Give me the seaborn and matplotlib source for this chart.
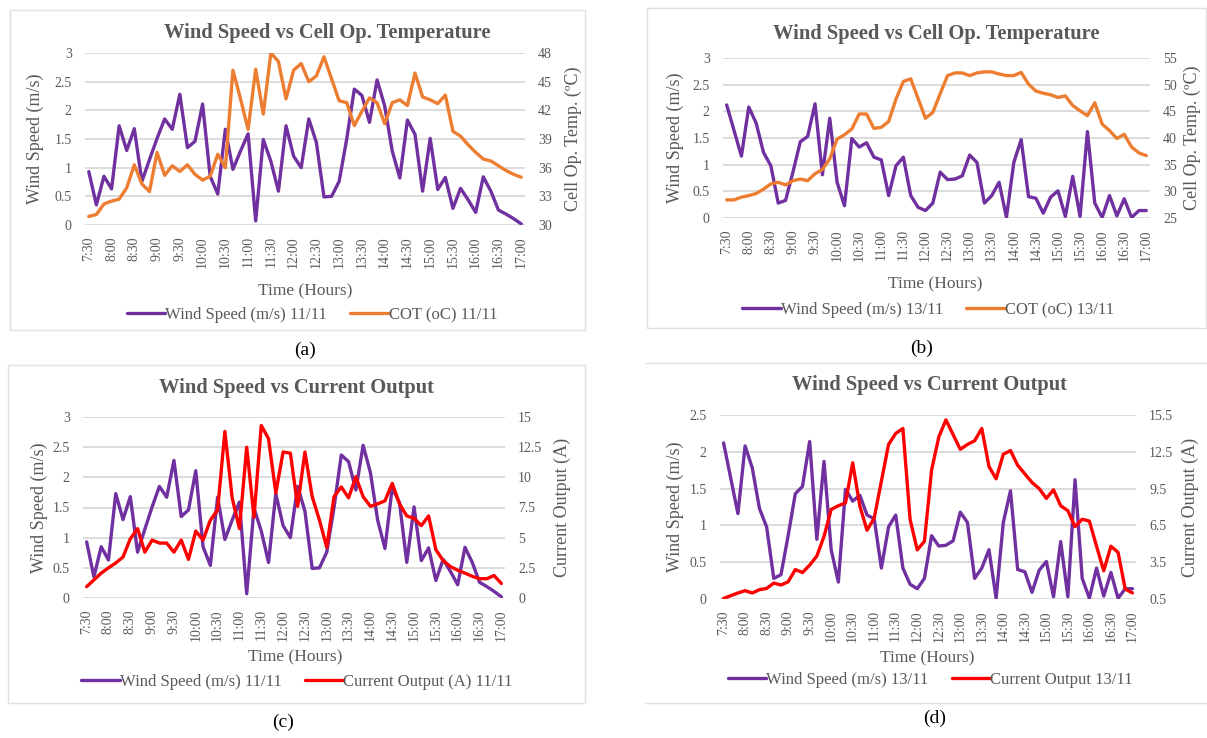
import numpy as np
import pandas as pd
import matplotlib
matplotlib.use("Agg")
import matplotlib.pyplot as plt
from matplotlib.patches import Rectangle
from matplotlib.lines import Line2D
from matplotlib.transforms import blended_transform_factory
import seaborn as sns

# ---------------- data ----------------
times = [f"{h}:{m:02d}" for h in range(7, 18) for m in range(0, 60, 10)]
times = times[times.index("7:30"):times.index("17:00") + 1]   # 58 samples, 10-min steps
tick_labels = ["7:30", "8:00", "8:30", "9:00", "9:30", "10:00", "10:30", "11:00", "11:30",
               "12:00", "12:30", "13:00", "13:30", "14:00", "14:30", "15:00", "15:30",
               "16:00", "16:30", "17:00"]

wind_11 = [0.93, 0.35, 0.85, 0.63, 1.73, 1.30, 1.68, 0.76, 1.14, 1.51, 1.85, 1.67, 2.28, 1.35,
           1.46, 2.11, 0.85, 0.54, 1.67, 0.97, 1.29, 1.59, 0.07, 1.49, 1.11, 0.59, 1.73, 1.20,
           1.00, 1.85, 1.44, 0.49, 0.50, 0.76, 1.50, 2.37, 2.26, 1.79, 2.53, 2.08, 1.29, 0.82,
           1.83, 1.58, 0.59, 1.51, 0.62, 0.83, 0.29, 0.64, 0.44, 0.22, 0.84, 0.59, 0.26, 0.19,
           0.11, 0.02]
cot_11 = [30.9, 31.1, 32.2, 32.5, 32.7, 33.9, 36.3, 34.3, 33.5, 37.6, 35.2, 36.2, 35.6, 36.3,
          35.3, 34.7, 35.1, 37.4, 36.0, 46.2, 43.2, 40.0, 46.3, 41.6, 48.0, 47.1, 43.2, 46.2,
          46.9, 45.0, 45.6, 47.6, 45.3, 43.0, 42.8, 40.4, 41.9, 43.3, 42.8, 40.6, 42.8, 43.1,
          42.5, 45.9, 43.4, 43.1, 42.7, 43.6, 39.8, 39.3, 38.4, 37.6, 36.9, 36.7, 36.2, 35.7,
          35.3, 35.0]
wind_13 = [2.12, 1.64, 1.16, 2.08, 1.78, 1.23, 0.98, 0.28, 0.33, 0.86, 1.43, 1.53, 2.14, 0.81,
           1.87, 0.67, 0.23, 1.49, 1.33, 1.41, 1.14, 1.09, 0.42, 0.98, 1.14, 0.42, 0.20, 0.14,
           0.28, 0.86, 0.72, 0.73, 0.79, 1.18, 1.04, 0.28, 0.42, 0.67, 0.01, 1.04, 1.47, 0.40,
           0.37, 0.09, 0.39, 0.51, 0.03, 0.78, 0.03, 1.62, 0.28, 0.01, 0.42, 0.04, 0.36, 0.01,
           0.14, 0.14]
cot_13 = [28.4, 28.4, 28.9, 29.2, 29.6, 30.4, 31.4, 31.7, 31.2, 32.0, 32.3, 32.0, 33.3, 34.1,
          36.1, 39.8, 40.6, 41.7, 44.5, 44.5, 41.8, 42.0, 43.1, 47.3, 50.6, 51.1, 47.4, 43.7,
          44.8, 48.3, 51.7, 52.2, 52.2, 51.7, 52.2, 52.4, 52.4, 52.0, 51.7, 51.7, 52.3, 50.1,
          48.8, 48.4, 48.1, 47.6, 47.9, 46.1, 45.1, 44.2, 46.6, 42.6, 41.4, 39.9, 40.7, 38.3,
          37.2, 36.7]
cur_11 = [0.94, 1.5, 2.06, 2.5, 2.9, 3.4, 4.9, 5.75, 3.8, 4.8, 4.55, 4.55, 3.8, 4.8, 3.2, 5.55,
          4.8, 6.45, 7.3, 13.8, 8.3, 5.75, 12.5, 6.7, 14.3, 13.2, 8.7, 12.1, 12.0, 7.6, 12.1, 8.4,
          6.45, 4.2, 8.4, 9.2, 8.3, 10.05, 8.4, 7.6, 7.8, 8.05, 9.5, 7.8, 6.8, 6.6, 6.0, 6.8, 4.0,
          3.1, 2.6, 2.3, 2.06, 1.8, 1.6, 1.6, 1.86, 1.2]
cur_13 = [0.55, 0.77, 0.99, 1.18, 0.99, 1.26, 1.36, 1.8, 1.64, 1.9, 2.9, 2.66, 3.26, 4.0, 5.6,
          7.8, 8.1, 8.34, 11.6, 8.07, 6.1, 7.1, 10.1, 13.1, 14.0, 14.4, 7.0, 4.5, 5.2, 11.0, 13.7,
          15.1, 13.9, 12.7, 13.1, 13.4, 14.4, 11.3, 10.3, 12.3, 12.6, 11.4, 10.7, 10.0, 9.5, 8.7,
          9.4, 8.1, 7.7, 6.4, 7.0, 6.85, 4.8, 2.8, 4.8, 4.3, 1.3, 1.0]

df = pd.DataFrame({"time": times, "wind_11": wind_11, "cot_11": cot_11, "wind_13": wind_13,
                   "cot_13": cot_13, "cur_11": cur_11, "cur_13": cur_13})
df["pos"] = np.arange(len(df))

# ---------------- style ----------------
sns.set_theme(style="white")
SERIF = ["Liberation Serif", "DejaVu Serif"]
plt.rcParams["font.family"] = SERIF
GRAY = "#595959"
GRID = "#D9D9D9"
PURPLE = "#7030A0"
ORANGE = "#ED7D31"
RED = "#FF0000"
LW = 2.4

W, H = 1207, 738
fig = plt.figure(figsize=(W / 100, H / 100), dpi=100)


def rect(x0, x1, ytop, ybot):
    return [x0 / W, 1 - ybot / H, (x1 - x0) / W, (ybot - ytop) / H]


def fx(x):
    return x / W


def fy(y):
    return 1 - y / H


def panel(box, left_col, right_col, left_lim, left_ticks, left_labels, right_lim, right_ticks,
          right_labels, right_color, title, right_ylabel, leg_labels, lay):
    ax = fig.add_axes(rect(*box))
    ax2 = ax.twinx()
    sns.lineplot(data=df, x="pos", y=left_col, ax=ax, color=PURPLE, lw=LW, legend=False)
    sns.lineplot(data=df, x="pos", y=right_col, ax=ax2, color=right_color, lw=LW, legend=False)
    for a in (ax, ax2):
        for s in a.spines.values():
            s.set_visible(False)
        a.set_xlim(-0.5, len(df) - 0.5)
        a.tick_params(length=0, colors=GRAY, labelsize=10)
        a.set_xlabel("")
    ax.set_ylim(*left_lim)
    ax.set_yticks(left_ticks)
    ax.set_yticklabels(left_labels)
    ax2.set_ylim(*right_lim)
    ax2.set_yticks(right_ticks)
    ax2.set_yticklabels(right_labels)
    ax.tick_params(axis="y", pad=9.5)
    ax2.tick_params(axis="y", pad=9.5)
    ax.yaxis.grid(True, color=GRID, lw=1.3)
    ax.set_axisbelow(True)
    ax2.grid(False)
    ax.set_xticks(df["pos"][::3])
    ax.set_xticklabels(tick_labels, rotation=90)
    ax.tick_params(axis="x", pad=8, labelsize=10)

    tr = lambda a: blended_transform_factory(fig.transFigure, a.transAxes)
    ax.set_ylabel("Wind Speed (m/s)", fontsize=13, color=GRAY)
    ax.yaxis.set_label_coords(fx(lay["yl"]), 0.5, transform=tr(ax))
    ax2.set_ylabel(right_ylabel, fontsize=13, color=GRAY, rotation=90)
    ax2.yaxis.set_label_coords(fx(lay["yr"]), 0.5, transform=tr(ax2))
    for lab in (ax.yaxis.label, ax2.yaxis.label):
        lab.set_va("center")
        lab.set_ha("center")

    fig.text(fx(lay["title"][0]), fy(lay["title"][1]), title, ha="center", va="center",
             fontsize=14.8, fontweight="bold", color=GRAY)
    fig.text(fx(lay["xl"][0]), fy(lay["xl"][1]), "Time (Hours)", ha="center", va="center",
             fontsize=12.5, color=GRAY)
    handles = [Line2D([], [], color=PURPLE, lw=LW), Line2D([], [], color=right_color, lw=LW)]
    leg = fig.legend(handles, leg_labels, loc="center", ncol=2, frameon=False,
                     bbox_to_anchor=(fx(lay["leg"][0]), fy(lay["leg"][1])), fontsize=12,
                     handlelength=2.3, handletextpad=0.0, columnspacing=1.4,
                     borderpad=0, borderaxespad=0)
    for t in leg.get_texts():
        t.set_color(GRAY)
    fig.text(fx(lay["tag"][0]), fy(lay["tag"][1]), lay["tag"][2], ha="center", va="center",
             fontsize=14, color="black")
    return ax, ax2


ws_ticks3 = [0, 0.5, 1, 1.5, 2, 2.5, 3]
ws_lab3 = ["0", "0.5", "1", "1.5", "2", "2.5", "3"]

panel((85, 525, 53, 225), "wind_11", "cot_11", (0, 3), ws_ticks3, ws_lab3,
      (30, 48), [30, 33, 36, 39, 42, 45, 48], ["30", "33", "36", "39", "42", "45", "48"],
      ORANGE, "Wind Speed vs Cell Op. Temperature", "Cell Op. Temp. (\u00baC)",
      ["Wind Speed (m/s) 11/11", "COT (oC) 11/11"],
      dict(yl=35, yr=573, title=(327, 33), xl=(305, 291), leg=(312, 315), tag=(305, 350, "(a)")))

panel((723, 1150, 58, 218), "wind_13", "cot_13", (0, 3), ws_ticks3, ws_lab3,
      (25, 55), [25, 30, 35, 40, 45, 50, 55], ["25", "30", "35", "40", "45", "50", "55"],
      ORANGE, "Wind Speed vs Cell Op. Temperature", "Cell Op. Temp. (\u00baC)",
      ["Wind Speed (m/s) 13/11", "COT (oC) 13/11"],
      dict(yl=675, yr=1192, title=(936, 34), xl=(935, 284), leg=(928, 310), tag=(922, 348, "(b)")))

panel((83, 505, 417, 598), "wind_11", "cur_11", (0, 3), ws_ticks3, ws_lab3,
      (0, 15), [0, 2.5, 5, 7.5, 10, 12.5, 15], ["0", "2.5", "5", "7.5", "10", "12.5", "15"],
      RED, "Wind Speed vs Current Output", "Current Output (A)",
      ["Wind Speed (m/s) 11/11", "Current Output (A) 11/11"],
      dict(yl=39, yr=562, title=(296, 388), xl=(295, 657), leg=(297, 682), tag=(283, 722, "(c)")))

panel((720, 1136, 415, 599), "wind_13", "cur_13", (0, 2.5), [0, 0.5, 1, 1.5, 2, 2.5],
      ["0", "0.5", "1", "1.5", "2", "2.5"],
      (0.5, 15.5), [0.5, 3.5, 6.5, 9.5, 12.5, 15.5], ["0.5", "3.5", "6.5", "9.5", "12.5", "15.5"],
      RED, "Wind Speed vs Current Output", "Current Output (A)",
      ["Wind Speed (m/s) 13/11", "Current Output 13/11"],
      dict(yl=675, yr=1190, title=(929, 385), xl=(927, 658), leg=(930, 680), tag=(935, 718, "(d)")))

# light chart-area borders
for (x0, y0, x1, y1) in [(10, 10, 585, 330), (647, 8, 1206, 328), (8, 365, 585, 703)]:
    fig.patches.append(Rectangle((fx(x0), fy(y1)), fx(x1 - x0), (y1 - y0) / H,
                                 transform=fig.transFigure, fill=False, ec="#E0E0E0", lw=1))
for y in (363, 703):
    fig.lines.append(Line2D([fx(645), fx(1207)], [fy(y), fy(y)], transform=fig.transFigure,
                            color="#E0E0E0", lw=1))

fig.savefig("out.png", dpi=100, facecolor="white")
